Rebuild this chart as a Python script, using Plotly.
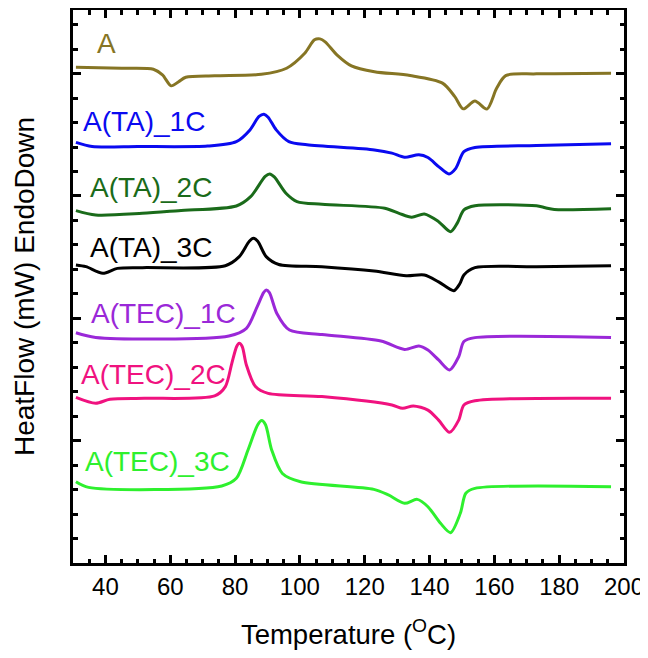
import plotly.graph_objects as go

# ---- data (Temperature in °C, heat flow in arbitrary stacked units) ----
T_A = [30.9, 45, 54.8, 57.6, 60.3, 62.6, 64.8, 73.7, 88.1, 95.9, 101.5, 104.5, 106.2, 107.8, 111.5, 115.9,
       123.0, 134.0, 144.0, 147.8, 150.4, 154.0, 157.7, 160.7, 163.5, 173.0, 196]
HF_A = [20.26, 20.22, 20.18, 19.95, 19.50, 19.67, 19.85, 19.91, 19.97, 20.22, 20.83, 21.38, 21.42, 21.30, 20.76, 20.32,
        20.08, 19.92, 19.61, 19.06, 18.56, 18.88, 18.55, 19.40, 19.92, 19.99, 20.02]

T_TA1 = [30.9, 35.9, 50, 71.5, 80.4, 84.6, 87.4, 88.9, 90.2, 92.7, 96.6, 102.2, 123.0, 128.4, 132.3, 136.7,
         139.5, 142.8, 146.0, 148.1, 150.6, 154.0, 173.0, 196]
HF_TA1 = [17.19, 17.02, 17.02, 17.04, 17.22, 17.70, 18.25, 18.34, 18.22, 17.70, 17.22, 17.09, 16.88, 16.75, 16.58, 16.68,
          16.57, 16.20, 15.90, 16.13, 16.81, 16.98, 17.06, 17.13]

T_TA2 = [30.9, 37, 51.4, 62.6, 80.4, 84.8, 89.3, 90.7, 92.1, 95.7, 99.1, 106.8, 126.2, 130.6, 134.5, 138.4,
         142.8, 146.5, 148.6, 150.6, 154.0, 173.0, 175.7, 178.5, 196]
HF_TA2 = [14.40, 14.22, 14.29, 14.40, 14.59, 14.97, 15.80, 15.90, 15.78, 15.11, 14.77, 14.66, 14.50, 14.29, 14.13, 14.26,
          13.95, 13.54, 13.90, 14.43, 14.60, 14.60, 14.52, 14.45, 14.48]

T_TA3 = [30.9, 34, 39.2, 43.7, 51.4, 77.0, 81.3, 84.4, 85.7, 87.0, 89.6, 93.5, 106.8, 122.9, 132.8, 138.4,
         142.8, 147.5, 149.3, 150.6, 154.0, 173.0, 196]
HF_TA3 = [12.18, 12.11, 11.84, 12.04, 12.07, 12.15, 12.52, 13.15, 13.27, 13.15, 12.52, 12.20, 12.11, 11.93, 11.74, 11.77,
          11.49, 11.13, 11.40, 11.77, 12.07, 12.11, 12.15]

T_TEC1 = [30.9, 37, 78.1, 83.5, 86.8, 88.8, 89.6, 90.6, 92.9, 96.8, 106.8, 125.0, 132.3, 136.7, 139.5, 142.8,
          146.2, 149.0, 150.6, 154.0, 196]
HF_TEC1 = [9.41, 9.22, 9.28, 9.59, 10.47, 11.05, 11.16, 11.05, 10.20, 9.52, 9.34, 9.07, 8.73, 8.87, 8.70, 8.30,
           7.89, 8.43, 9.05, 9.21, 9.22]

T_TEC2 = [30.9, 37, 41.4, 52, 73.7, 77.0, 79.0, 80.5, 81.3, 82.2, 83.5, 86.3, 90.2, 106.8, 128.4, 131.7,
          135.0, 139.5, 142.8, 146.2, 149.0, 150.6, 154.0, 196]
HF_TEC2 = [6.77, 6.53, 6.69, 6.73, 6.83, 7.21, 8.16, 8.85, 8.98, 8.85, 8.09, 7.21, 6.93, 6.80, 6.46, 6.32,
           6.42, 6.25, 5.84, 5.34, 5.84, 6.46, 6.63, 6.73]

T_TEC3 = [30.9, 34.8, 75.9, 80.4, 84.0, 87.0, 88.2, 89.4, 91.3, 94.6, 100.2, 122.8, 127.3, 132.3, 136.2, 139.5,
          143.4, 146.5, 149.5, 151.2, 154.0, 196]
HF_TEC3 = [3.32, 3.09, 3.15, 3.46, 4.62, 5.65, 5.82, 5.65, 4.62, 3.66, 3.32, 3.01, 2.78, 2.44, 2.60, 2.30,
           1.62, 1.24, 2.03, 2.85, 3.05, 3.12]

SERIES_NAMES = ["A", "A(TA)_1C", "A(TA)_2C", "A(TA)_3C", "A(TEC)_1C", "A(TEC)_2C", "A(TEC)_3C"]
X_TICKS = [40, 60, 80, 100, 120, 140, 160, 180, 200]
X_TICK_LABELS = ["40", "60", "80", "100", "120", "140", "160", "180", "200"]

# ---- styling / layout ----
COLORS = ["#867524", "#0a0af0", "#1a6b1a", "#000000", "#9a28d8", "#f0127f", "#2ef02e"]
LABEL_POS = [(36.9, 21.23), (32.6, 18.06), (34.6, 15.35), (34.6, 12.89), (34.9, 10.18), (31.8, 7.72), (33.0, 4.15)]
FONT = "Liberation Sans, Arial, sans-serif"

temps = [T_A, T_TA1, T_TA2, T_TA3, T_TEC1, T_TEC2, T_TEC3]
flows = [HF_A, HF_TA1, HF_TA2, HF_TA3, HF_TEC1, HF_TEC2, HF_TEC3]

fig = go.Figure()
for name, t, hf, c in zip(SERIES_NAMES, temps, flows, COLORS):
    fig.add_trace(go.Scatter(x=t, y=hf, mode="lines", name=name,
                             line=dict(color=c, width=3, shape="spline", smoothing=0.8)))

for name, (lx, ly), c in zip(SERIES_NAMES, LABEL_POS, COLORS):
    fig.add_annotation(x=lx, y=ly, text=name, showarrow=False, xanchor="left", yanchor="middle",
                       font=dict(family=FONT, size=28, color=c))

axis_common = dict(showline=True, linewidth=3, linecolor="black", mirror="ticks",
                   ticks="inside", ticklen=8, tickwidth=2.5, tickcolor="black",
                   showgrid=False, zeroline=False)

fig.update_xaxes(**axis_common, range=[30, 200], tickvals=X_TICKS, ticktext=X_TICK_LABELS,
                 minor=dict(ticks="inside", ticklen=4.5, tickwidth=2.5, tickcolor="black", dtick=5, tick0=0),
                 tickfont=dict(family=FONT, size=24, color="black"),
                 title=dict(text="Temperature (<sup>O</sup>C)", font=dict(family=FONT, size=27.5, color="black"),
                            standoff=26))
fig.update_yaxes(**axis_common, range=[0, 22.6], tick0=0, dtick=5, showticklabels=False,
                 minor=dict(ticks="inside", ticklen=4.5, tickwidth=2.5, tickcolor="black", dtick=1, tick0=0),
                 title=dict(text="HeatFlow (mW) EndoDown", font=dict(family=FONT, size=28, color="black"),
                            standoff=28))

# the page body adds an 8px margin, so the figure is drawn 8px smaller and shifted accordingly
fig.update_layout(width=640, height=650, margin=dict(l=65, r=24, t=2, b=95, autoexpand=False),
                  paper_bgcolor="white", plot_bgcolor="white", showlegend=False)

fig.write_html("out.html")
